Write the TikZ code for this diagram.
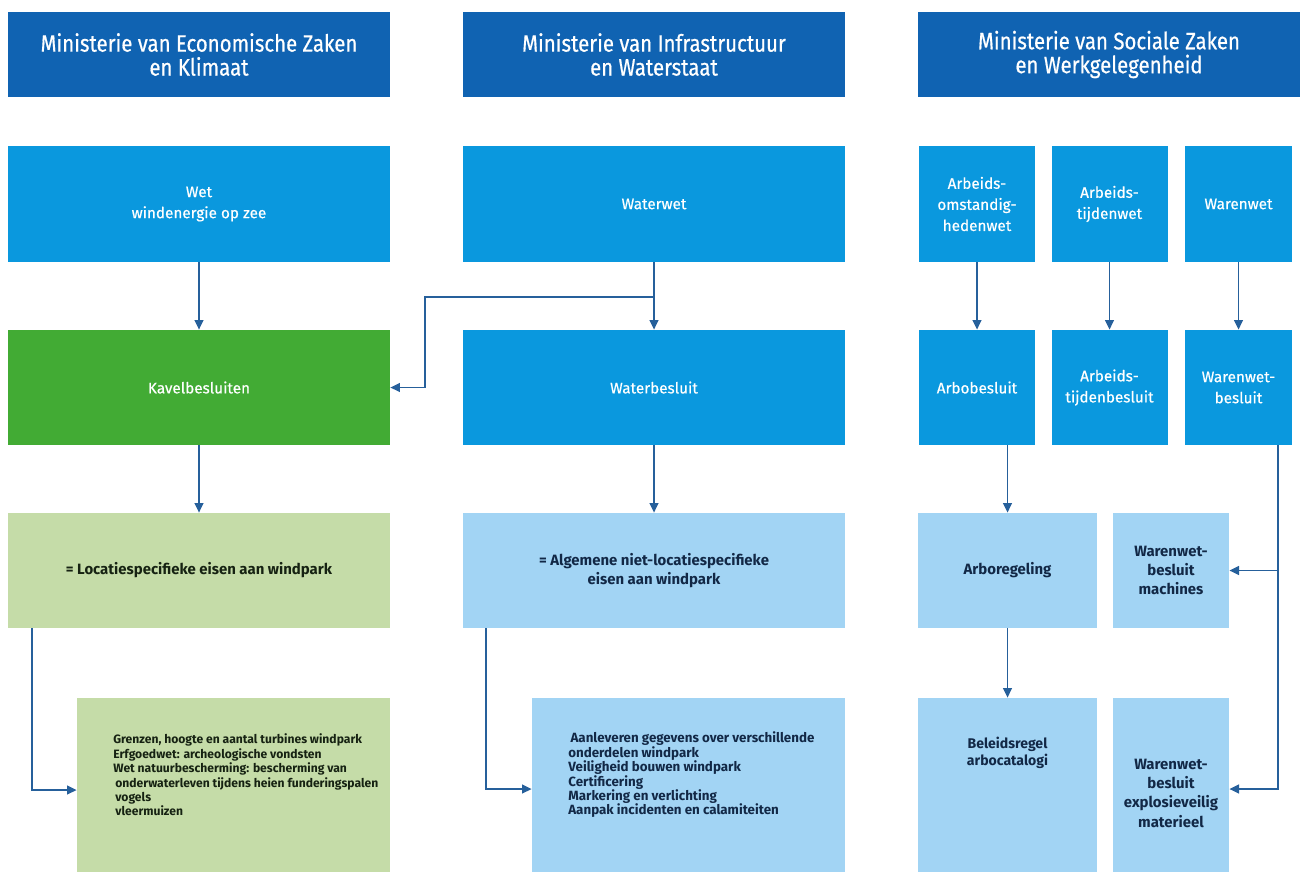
\documentclass[tikz,border=0pt]{standalone}
\usepackage{fontspec}
\setmainfont{Fira Sans}
\newfontfamily\headfont[FakeStretch=0.86,FakeBold=0.6]{Fira Sans}
\newfontfamily\whitefont[FakeBold=0.5]{Fira Sans}
\usetikzlibrary{arrows.meta,calc}
\definecolor{hdr}{RGB}{16,99,178}
\definecolor{midblue}{RGB}{10,152,222}
\definecolor{kgreen}{RGB}{66,171,52}
\definecolor{lgreen}{RGB}{197,220,168}
\definecolor{lblue}{RGB}{162,212,244}
\definecolor{arrcol}{RGB}{38,96,155}
\definecolor{navytxt}{RGB}{18,40,70}
\definecolor{greentxt}{RGB}{22,34,18}
\begin{document}
\begin{tikzpicture}[x=0.02cm,y=-0.02cm,
  box/.style={rectangle,inner sep=1pt,align=center,anchor=center},
  hdrbox/.style={box,fill=hdr,text=white,minimum width=7.64cm,minimum height=1.7cm,
    font=\headfont\fontsize{13.5}{13.6}\selectfont},
  lawbox/.style={box,fill=midblue,text=white,font=\whitefont\fontsize{8.7}{12}\selectfont},
  greenbox/.style={box,fill=kgreen,text=white,font=\whitefont\fontsize{8.7}{12}\selectfont},
  lgbox/.style={box,fill=lgreen,text=greentxt,font=\bfseries\fontsize{8.5}{11}\selectfont},
  lbbox/.style={box,fill=lblue,text=navytxt,font=\bfseries\fontsize{8.5}{11}\selectfont},
  wide/.style={minimum width=7.64cm},
  narrow/.style={minimum width=2.32cm},
  rowtwo/.style={minimum height=2.32cm},
  rowthree/.style={minimum height=2.3cm},
  rowfive/.style={minimum height=3.48cm},
  listtxt/.style={anchor=west,align=left,inner sep=0pt},
  arr/.style={draw=arrcol,line width=1.1pt,-{Triangle[length=5.5pt,width=5pt]}}
]
\useasboundingbox (0,0) rectangle (1301,877);

% headers
\node[hdrbox] (h1) at (199,54.5) {Ministerie van Economische Zaken\\en Klimaat};
\node[hdrbox] (h2) at (654,54.5) {Ministerie van Infrastructuur\\en Waterstaat};
\node[hdrbox] (h3) at (1109,54.5) {Ministerie van Sociale Zaken\\en Werkgelegenheid};

% row 2: laws
\node[lawbox,wide,rowtwo] (wet) at (199,204) {Wet\\windenergie op zee};
\node[lawbox,wide,rowtwo] (waterwet) at (654,204) {Waterwet};
\node[lawbox,narrow,rowtwo] (arbowet) at (977,204) {Arbeids-\\omstandig-\\hedenwet};
\node[lawbox,narrow,rowtwo] (atw) at (1109.5,204) {Arbeids-\\tijdenwet};
\node[lawbox,rowtwo,minimum width=2.14cm] (warenwet) at (1238.5,204) {Warenwet};

% row 3: decrees
\node[greenbox,wide,rowthree] (kavel) at (199,387.5) {Kavelbesluiten};
\node[lawbox,wide,rowthree] (waterbes) at (654,387.5) {Waterbesluit};
\node[lawbox,narrow,rowthree] (arbobes) at (977,387.5) {Arbobesluit};
\node[lawbox,narrow,rowthree] (atb) at (1109.5,387.5) {Arbeids-\\tijdenbesluit};
\node[lawbox,rowthree,minimum width=2.14cm] (wwb) at (1238.5,387.5) {Warenwet-\\besluit};

% row 4
\node[lgbox,wide,rowthree] (loc) at (199,570.5) {= Locatiespecifieke eisen aan windpark};
\node[lbbox,wide,rowthree] (alg) at (654,570.5) {= Algemene niet-locatiespecifieke\\eisen aan windpark};
\node[lbbox,rowthree,minimum width=3.58cm] (arboreg) at (1007.5,570.5) {Arboregeling};
\node[lbbox,rowthree,minimum width=2.32cm] (mach) at (1171,570.5) {Warenwet-\\besluit\\machines};

% row 5
\node[lgbox,rowfive,minimum width=6.26cm] (gren) at (233.5,785) {};
\node[lbbox,rowfive,minimum width=6.26cm] (aan) at (688.5,785) {};
\node[lbbox,rowfive,minimum width=3.58cm] (beleid) at (1007.5,785) {};
\node[lbbox,rowfive,minimum width=2.32cm] (expl) at (1171,785) {};

\node[listtxt,text=greentxt,font=\bfseries\fontsize{6.9}{8.2}\selectfont] (grentxt) at (113,775)
  {Grenzen, hoogte en aantal turbines windpark\\
   Erfgoedwet: archeologische vondsten\\
   Wet natuurbescherming: bescherming van\\
   \,onderwaterleven tijdens heien funderingspalen\\
   \,vogels\\
   \,vleermuizen};
\node[listtxt,text=navytxt,font=\bfseries\fontsize{7.6}{8.2}\selectfont] (aantxt) at (568,775)
  {\,Aanleveren gegevens over verschillende\\
   onderdelen windpark\\
   Veiligheid bouwen windpark\\
   Certificering\\
   Markering en verlichting\\
   Aanpak incidenten en calamiteiten};
\node[box,text=navytxt,font=\bfseries\fontsize{8}{9.5}\selectfont] (beltxt) at (1007.5,753)
  {Beleidsregel\\arbocatalogi};
\node[box,text=navytxt,font=\bfseries\fontsize{8.5}{11}\selectfont] (expltxt) at (1171,793)
  {Warenwet-\\besluit\\explosieveilig\\materieel};

% connectors
\draw[arr] (wet.south) -- (kavel.north);
\draw[arr] (waterwet.south) -- (waterbes.north);
\coordinate (j1) at (654,297);
\coordinate (j2) at (425,297);
\draw[arr] (j1) -- (j2) |- (kavel.east);
\draw[arr] (kavel.south) -- (loc.north);
\draw[arr] (waterbes.south) -- (alg.north);
\draw[arr] ([xshift=0.48cm]loc.south west) |- ([yshift=-0.1cm]gren.west);
\draw[arr] ([xshift=0.46cm]alg.south west) |- ([yshift=-0.08cm]aan.west);
\draw[arr] (arbowet.south) -- (arbobes.north);
\draw[arr] (atw.south) -- (atb.north);
\draw[arr] (warenwet.south) -- (wwb.north);
\draw[arr] (arboreg.north |- arbobes.south) -- (arboreg.north);
\draw[arr] (arboreg.south) -- (beleid.north);
\coordinate (w1) at ([xshift=0.79cm]wwb.south);
\draw[arr] (w1) |- ([yshift=-0.08cm]expl.east);
\draw[arr] (w1 |- mach.east) -- (mach.east);
\end{tikzpicture}
\end{document}
